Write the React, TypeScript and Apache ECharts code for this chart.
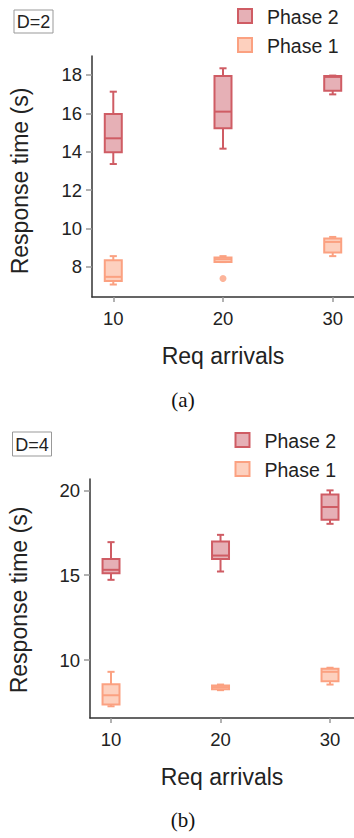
import React, { useEffect, useRef } from "react";
import * as echarts from "echarts";

// ---- data ----
const arrivals = [10, 20, 30];
// box stats: [min, Q1, median, Q3, max]
const d2Phase2 = [
  [13.36, 13.97, 14.7, 15.97, 17.13],
  [14.16, 15.22, 16.09, 17.95, 18.35],
  [16.99, 17.18, 17.9, 17.95, 17.97],
];
const d2Phase1 = [
  [7.08, 7.27, 7.48, 8.35, 8.56],
  [8.25, 8.26, 8.4, 8.49, 8.56],
  [8.56, 8.75, 9.3, 9.48, 9.56],
];
const d2Outliers = [[20, 7.39]];
const d4Phase2 = [
  [14.73, 15.12, 15.32, 15.95, 16.95],
  [15.22, 15.95, 16.16, 16.99, 17.38],
  [18.03, 18.27, 19.02, 19.75, 20.0],
];
const d4Phase1 = [
  [7.28, 7.38, 7.93, 8.58, 9.31],
  [8.23, 8.29, 8.41, 8.5, 8.56],
  [8.56, 8.76, 9.31, 9.49, 9.55],
];
const d2YTicks = [8, 10, 12, 14, 16, 18];
const d4YTicks = [10, 15, 20];
const seriesNames = ["Phase 2", "Phase 1"];
const panelTags = ["D=2", "D=4"];
const captions = ["(a)", "(b)"];

const P2_STROKE = "#cf5c64";
const P2_FILL = "#e6b0b6";
const P1_STROKE = "#fba181";
const P1_FILL = "#fdd0be";
const FONT = "Liberation Sans";

function toRows(stats: number[][]) {
  return stats.map((s, i) => [arrivals[i], ...s]);
}

function boxSeries(name: string, stats: number[][], idx: number, stroke: string, fill: string) {
  return {
    type: "custom",
    name,
    xAxisIndex: idx,
    yAxisIndex: idx,
    data: toRows(stats),
    encode: { x: 0, y: [1, 2, 3, 4, 5] },
    renderItem: (params: any, api: any) => {
      const x = api.value(0);
      const lo = api.coord([x, api.value(1)]);
      const q1 = api.coord([x, api.value(2)]);
      const med = api.coord([x, api.value(3)]);
      const q3 = api.coord([x, api.value(4)]);
      const hi = api.coord([x, api.value(5)]);
      const cx = lo[0];
      const hw = api.size([1.55, 0])[0] / 2;
      const cw = api.size([0.65, 0])[0] / 2;
      const ls = { stroke, lineWidth: 2 };
      return {
        type: "group",
        children: [
          { type: "line", shape: { x1: cx, y1: hi[1], x2: cx, y2: q3[1] }, style: ls },
          { type: "line", shape: { x1: cx, y1: q1[1], x2: cx, y2: lo[1] }, style: ls },
          { type: "line", shape: { x1: cx - cw, y1: hi[1], x2: cx + cw, y2: hi[1] }, style: ls },
          { type: "line", shape: { x1: cx - cw, y1: lo[1], x2: cx + cw, y2: lo[1] }, style: ls },
          {
            type: "rect",
            shape: { x: cx - hw, y: q3[1], width: hw * 2, height: q1[1] - q3[1] },
            style: { fill, stroke, lineWidth: 2 },
          },
          { type: "line", shape: { x1: cx - hw, y1: med[1], x2: cx + hw, y2: med[1] }, style: ls },
        ],
      };
    },
  };
}

function xAxis(gridIndex: number, min: number, max: number) {
  return {
    type: "value",
    gridIndex,
    min,
    max,
    name: "Req arrivals",
    nameLocation: "middle",
    nameGap: 47,
    nameTextStyle: { fontFamily: FONT, fontSize: 23, color: "#222" },
    axisLine: { show: true, lineStyle: { color: "#333", width: 1.5 } },
    axisTick: { show: true, customValues: arrivals, length: 5, lineStyle: { color: "#999", width: 1.5 } },
    axisLabel: { customValues: arrivals, fontFamily: FONT, fontSize: 18.5, color: "#222", margin: 12 },
    splitLine: { show: false },
  };
}

function yAxis(gridIndex: number, min: number, max: number, ticks: number[]) {
  return {
    type: "value",
    gridIndex,
    min,
    max,
    axisLine: { show: true, lineStyle: { color: "#333", width: 1.5 } },
    axisTick: { show: true, customValues: ticks, length: 6, lineStyle: { color: "#999", width: 1.5 } },
    axisLabel: { customValues: ticks, fontFamily: FONT, fontSize: 18.5, color: "#222", margin: 10 },
    splitLine: { show: false },
  };
}

function legendAndTag(top: number, tagBox: number[], legendX: number, legendYs: number[]) {
  const els: any[] = [];
  els.push({
    type: "rect",
    shape: { x: tagBox[0], y: tagBox[1], width: tagBox[2], height: tagBox[3] },
    style: { fill: "#fff", stroke: "#999", lineWidth: 1 },
  });
  els.push({
    type: "text",
    x: tagBox[0] + tagBox[2] / 2,
    y: tagBox[1] + tagBox[3] / 2 + 0.5,
    style: {
      text: panelTags[top],
      fontFamily: FONT,
      fontSize: 18,
      fill: "#222",
      align: "center",
      verticalAlign: "middle",
    },
  });
  const strokes = [P2_STROKE, P1_STROKE];
  const fills = [P2_FILL, P1_FILL];
  seriesNames.forEach((n, i) => {
    els.push({
      type: "rect",
      shape: { x: legendX, y: legendYs[i] - 7, width: 14, height: 14 },
      style: { fill: fills[i], stroke: strokes[i], lineWidth: 2 },
    });
    els.push({
      type: "text",
      x: legendX + 29,
      y: legendYs[i] + 1,
      style: {
        text: n,
        fontFamily: FONT,
        fontSize: 19.5,
        fill: "#222",
        align: "left",
        verticalAlign: "middle",
      },
    });
  });
  return els;
}

export default function App() {
  const ref = useRef<HTMLDivElement>(null);
  useEffect(() => {
    document.body.style.margin = "0";
    const chart = echarts.init(ref.current!, undefined, { renderer: "svg" });
    const graphic: any[] = [
      ...legendAndTag(0, [14, 10, 39, 23], 238, [16, 45]),
      ...legendAndTag(1, [12.5, 432, 39, 24], 235.5, [440, 469]),
      {
        type: "text",
        x: 20,
        y: 181,
        rotation: Math.PI / 2,
        style: {
          text: "Response time (s)",
          fontFamily: FONT,
          fontSize: 23,
          fill: "#222",
          align: "center",
          verticalAlign: "middle",
        },
      },
      {
        type: "text",
        x: 19,
        y: 600,
        rotation: Math.PI / 2,
        style: {
          text: "Response time (s)",
          fontFamily: FONT,
          fontSize: 23,
          fill: "#222",
          align: "center",
          verticalAlign: "middle",
        },
      },
      {
        type: "text",
        x: 183,
        y: 400,
        style: {
          text: captions[0],
          fontFamily: "Liberation Serif",
          fontSize: 21,
          fill: "#111",
          align: "center",
          verticalAlign: "middle",
        },
      },
      {
        type: "text",
        x: 183,
        y: 820,
        style: {
          text: captions[1],
          fontFamily: "Liberation Serif",
          fontSize: 21,
          fill: "#111",
          align: "center",
          verticalAlign: "middle",
        },
      },
    ];
    chart.setOption({
      animation: false,
      backgroundColor: "#fff",
      grid: [
        { left: 92, top: 56, width: 262, height: 241 },
        { left: 90, top: 479, width: 264, height: 239 },
      ],
      xAxis: [xAxis(0, 8.06, 31.94), xAxis(1, 8.08, 32.19)],
      yAxis: [yAxis(0, 6.43, 18.99, d2YTicks), yAxis(1, 6.59, 20.67, d4YTicks)],
      graphic,
      series: [
        boxSeries(seriesNames[1], d2Phase1, 0, P1_STROKE, P1_FILL),
        boxSeries(seriesNames[0], d2Phase2, 0, P2_STROKE, P2_FILL),
        {
          type: "scatter",
          name: "Phase 1 outliers",
          xAxisIndex: 0,
          yAxisIndex: 0,
          data: d2Outliers,
          symbol: "circle",
          symbolSize: 7,
          itemStyle: { color: P1_STROKE },
        },
        boxSeries(seriesNames[1], d4Phase1, 1, P1_STROKE, P1_FILL),
        boxSeries(seriesNames[0], d4Phase2, 1, P2_STROKE, P2_FILL),
      ],
    });
    return () => chart.dispose();
  }, []);
  return <div ref={ref} style={{ width: 354, height: 838 }} />;
}
